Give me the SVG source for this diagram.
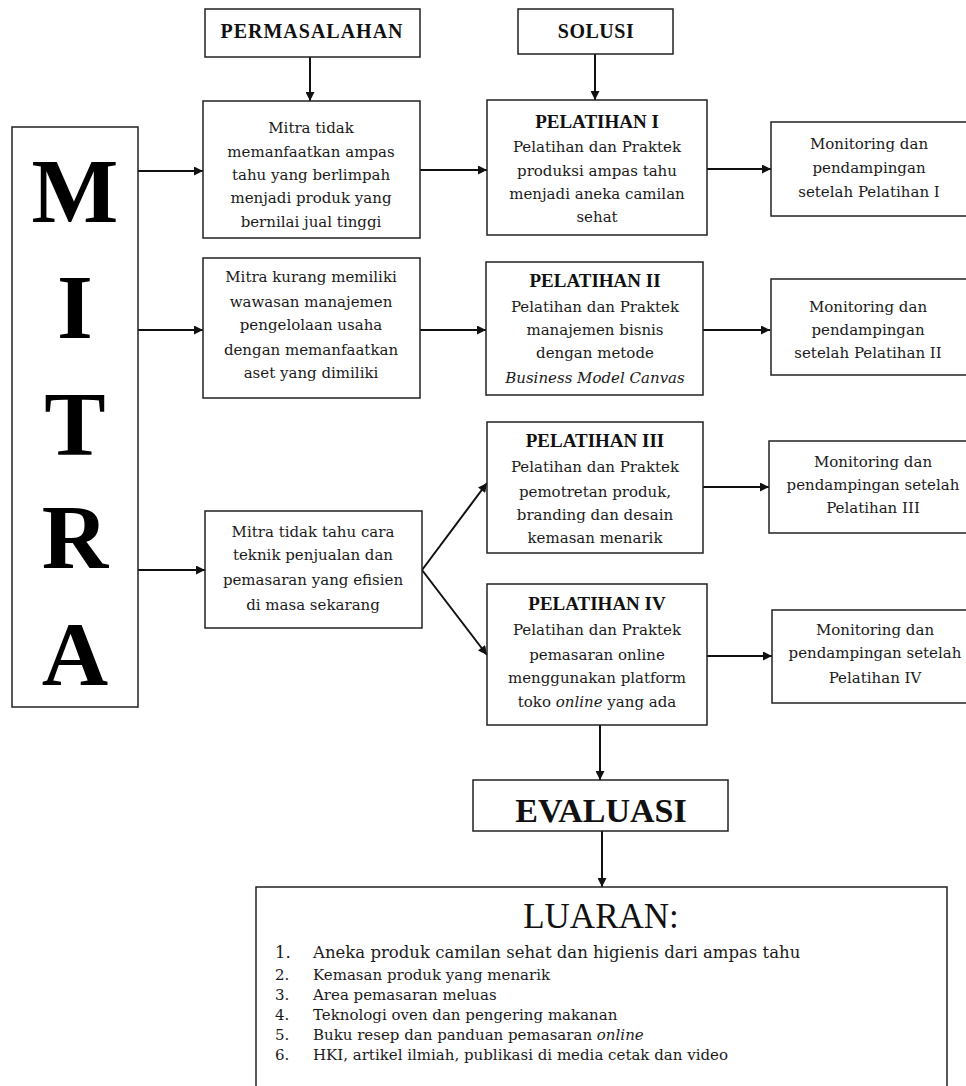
<svg xmlns="http://www.w3.org/2000/svg" width="966" height="1086" viewBox="0 0 966 1086">
<style>
.bx{fill:#fff;stroke:#222;stroke-width:1.5}
.cn{stroke:#111;stroke-width:2;fill:none}
.t{font-family:"DejaVu Serif","Liberation Serif",serif;font-size:15px;fill:#1a1a1a;text-anchor:middle}
.h{font-family:"Liberation Serif","Times New Roman",serif;font-weight:bold;font-size:19px;fill:#111;text-anchor:middle}
.big{font-family:"Liberation Serif","Times New Roman",serif;font-weight:bold;font-size:92px;fill:#000;text-anchor:middle}
.li{font-family:"DejaVu Serif","Liberation Serif",serif;font-size:15px;fill:#1a1a1a}
</style>
<defs>
<marker id="ah" viewBox="0 0 10 10" refX="10" refY="5" markerWidth="10" markerHeight="9" markerUnits="userSpaceOnUse" orient="auto">
<path d="M0,0 L10,5 L0,10 z" fill="#111"/>
</marker>
</defs>
<rect width="966" height="1086" fill="#fff"/>

<g id="connectors">
<line class="cn" x1="310" y1="57" x2="310" y2="101" marker-end="url(#ah)"/>
<line class="cn" x1="595" y1="54" x2="595" y2="100" marker-end="url(#ah)"/>
<line class="cn" x1="138" y1="171" x2="203" y2="171" marker-end="url(#ah)"/>
<line class="cn" x1="420" y1="170" x2="487" y2="170" marker-end="url(#ah)"/>
<line class="cn" x1="707" y1="169" x2="771" y2="169" marker-end="url(#ah)"/>
<line class="cn" x1="138" y1="330" x2="203" y2="330" marker-end="url(#ah)"/>
<line class="cn" x1="420" y1="330" x2="486" y2="330" marker-end="url(#ah)"/>
<line class="cn" x1="703" y1="330" x2="770" y2="330" marker-end="url(#ah)"/>
<line class="cn" x1="138" y1="570" x2="205" y2="570" marker-end="url(#ah)"/>
<line class="cn" x1="422" y1="570" x2="487" y2="483" marker-end="url(#ah)"/>
<line class="cn" x1="422" y1="570" x2="487" y2="655" marker-end="url(#ah)"/>
<line class="cn" x1="703" y1="487" x2="769" y2="487" marker-end="url(#ah)"/>
<line class="cn" x1="707" y1="656" x2="772" y2="656" marker-end="url(#ah)"/>
<line class="cn" x1="600" y1="725" x2="600" y2="780" marker-end="url(#ah)"/>
<line class="cn" x1="602" y1="831" x2="602" y2="887" marker-end="url(#ah)"/>
</g>

<g id="permasalahan">
<rect class="bx" x="205" y="9" width="215" height="48"/>
<text class="h" x="312" y="38" style="font-size:20px;letter-spacing:1px">PERMASALAHAN</text>
</g>

<g id="solusi">
<rect class="bx" x="518" y="9" width="155" height="45"/>
<text class="h" x="596" y="38" style="font-size:20px;letter-spacing:0.5px">SOLUSI</text>
</g>

<g id="mitra">
<rect class="bx" x="12" y="127" width="126" height="580"/>
<text class="big" x="75" y="222">M</text>
<text class="big" x="75" y="338">I</text>
<text class="big" x="75" y="455">T</text>
<text class="big" x="75" y="568">R</text>
<text class="big" x="75" y="685">A</text>
</g>

<g id="masalah1">
<rect class="bx" x="203" y="101" width="217" height="137"/>
<text class="t" x="311" y="133">Mitra tidak</text>
<text class="t" x="311" y="157">memanfaatkan ampas</text>
<text class="t" x="311" y="180">tahu yang berlimpah</text>
<text class="t" x="311" y="203">menjadi produk yang</text>
<text class="t" x="311" y="227">bernilai jual tinggi</text>
</g>

<g id="pelatihan1">
<rect class="bx" x="487" y="100" width="220" height="135"/>
<text class="h" x="597" y="128">PELATIHAN I</text>
<text class="t" x="597" y="152">Pelatihan dan Praktek</text>
<text class="t" x="597" y="176">produksi ampas tahu</text>
<text class="t" x="597" y="199">menjadi aneka camilan</text>
<text class="t" x="597" y="222">sehat</text>
</g>

<g id="monitoring1">
<rect class="bx" x="771" y="122" width="200" height="94"/>
<text class="t" x="869" y="149">Monitoring dan</text>
<text class="t" x="869" y="173">pendampingan</text>
<text class="t" x="869" y="197">setelah Pelatihan I</text>
</g>

<g id="masalah2">
<rect class="bx" x="203" y="258" width="217" height="140"/>
<text class="t" x="311" y="282">Mitra kurang memiliki</text>
<text class="t" x="311" y="307">wawasan manajemen</text>
<text class="t" x="311" y="330">pengelolaan usaha</text>
<text class="t" x="311" y="355">dengan memanfaatkan</text>
<text class="t" x="311" y="378">aset yang dimiliki</text>
</g>

<g id="pelatihan2">
<rect class="bx" x="486" y="262" width="217" height="133"/>
<text class="h" x="595" y="287">PELATIHAN II</text>
<text class="t" x="595" y="312">Pelatihan dan Praktek</text>
<text class="t" x="595" y="335">manajemen bisnis</text>
<text class="t" x="595" y="358">dengan metode</text>
<text class="t" x="595" y="383" style="font-style:italic">Business Model Canvas</text>
</g>

<g id="monitoring2">
<rect class="bx" x="771" y="279" width="200" height="96"/>
<text class="t" x="868" y="312">Monitoring dan</text>
<text class="t" x="868" y="335">pendampingan</text>
<text class="t" x="868" y="358">setelah Pelatihan II</text>
</g>

<g id="masalah3">
<rect class="bx" x="205" y="511" width="217" height="117"/>
<text class="t" x="313" y="537">Mitra tidak tahu cara</text>
<text class="t" x="313" y="560">teknik penjualan dan</text>
<text class="t" x="313" y="585">pemasaran yang efisien</text>
<text class="t" x="313" y="610">di masa sekarang</text>
</g>

<g id="pelatihan3">
<rect class="bx" x="487" y="422" width="216" height="131"/>
<text class="h" x="595" y="447">PELATIHAN III</text>
<text class="t" x="595" y="472">Pelatihan dan Praktek</text>
<text class="t" x="595" y="497">pemotretan produk,</text>
<text class="t" x="595" y="520">branding dan desain</text>
<text class="t" x="595" y="543">kemasan menarik</text>
</g>

<g id="monitoring3">
<rect class="bx" x="769" y="441" width="202" height="92"/>
<text class="t" x="873" y="467">Monitoring dan</text>
<text class="t" x="873" y="490">pendampingan setelah</text>
<text class="t" x="873" y="513">Pelatihan III</text>
</g>

<g id="pelatihan4">
<rect class="bx" x="487" y="584" width="220" height="141"/>
<text class="h" x="597" y="610">PELATIHAN IV</text>
<text class="t" x="597" y="635">Pelatihan dan Praktek</text>
<text class="t" x="597" y="660">pemasaran online</text>
<text class="t" x="597" y="683">menggunakan platform</text>
<text class="t" x="597" y="707">toko <tspan style="font-style:italic">online</tspan> yang ada</text>
</g>

<g id="monitoring4">
<rect class="bx" x="772" y="610" width="199" height="93"/>
<text class="t" x="875" y="635">Monitoring dan</text>
<text class="t" x="875" y="658">pendampingan setelah</text>
<text class="t" x="875" y="683">Pelatihan IV</text>
</g>

<g id="evaluasi">
<rect class="bx" x="473" y="780" width="255" height="51"/>
<text class="h" x="601" y="822" style="font-size:34px">EVALUASI</text>
</g>

<g id="luaran">
<rect class="bx" x="256" y="887" width="691" height="210"/>
<text x="601" y="928" style="font-family:'Liberation Serif','Times New Roman',serif;font-size:35px;fill:#111;text-anchor:middle">LUARAN:</text>
<text class="li" x="275" y="958" style="font-size:16.5px">1.</text>
<text class="li" x="313" y="958" style="font-size:16.5px">Aneka produk camilan sehat dan higienis dari ampas tahu</text>
<text class="li" x="275" y="980">2.</text>
<text class="li" x="313" y="980">Kemasan produk yang menarik</text>
<text class="li" x="275" y="1000">3.</text>
<text class="li" x="313" y="1000">Area pemasaran meluas</text>
<text class="li" x="275" y="1020">4.</text>
<text class="li" x="313" y="1020">Teknologi oven dan pengering makanan</text>
<text class="li" x="275" y="1040">5.</text>
<text class="li" x="313" y="1040">Buku resep dan panduan pemasaran <tspan style="font-style:italic">online</tspan></text>
<text class="li" x="275" y="1060">6.</text>
<text class="li" x="313" y="1060">HKI, artikel ilmiah, publikasi di media cetak dan video</text>
</g>
</svg>
